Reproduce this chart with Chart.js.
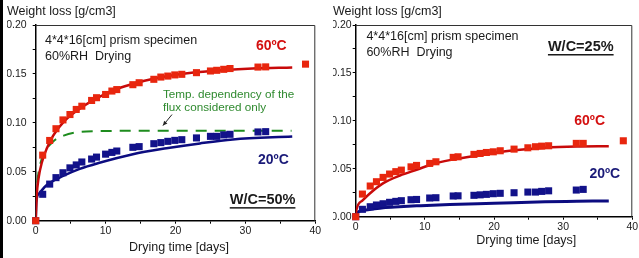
<!DOCTYPE html>
<html><head><meta charset="utf-8">
<script src="https://cdn.jsdelivr.net/npm/chart.js@4/dist/chart.umd.min.js"></script>
<style>
html,body{margin:0;padding:0;background:#fff;}
#wrap{position:relative;width:639px;height:258px;overflow:hidden;background:#fff;}
canvas{position:absolute;top:0;}
#c1{left:0;} #c2{left:320px;}
#bar{position:absolute;left:0;top:0;width:3px;height:258px;background:#000;}
</style></head><body>
<div id="wrap"><canvas id="c1" width="330" height="258"></canvas><canvas id="c2" width="319" height="258"></canvas><div id="bar"></div></div>
<script>
// ---------- DATA ----------
const yTitle = 'Weight loss [g/cm3]';
const xTitle = 'Drying time [days]';

// W/C = 50 % (left)
const leftDays60 = [0,1,2,2.9,3.9,4.9,5.8,6.6,8,8.7,10,10.9,11.6,13.9,14.8,16.9,17.9,18.9,19.9,20.9,23,25,25.9,26.9,27.8,31.8,32.9,38.6];
const left60     = [0,0.067,0.082,0.094,0.103,0.1085,0.1137,0.117,0.1229,0.1257,0.129,0.1325,0.134,0.139,0.141,0.1445,0.1468,0.1478,0.149,0.1496,0.1513,0.153,0.1537,0.1547,0.1555,0.157,0.1572,0.16];
const leftDays20 = [0,1,2,2.9,3.9,4.9,5.8,6.6,8,8.7,10,10.9,11.6,13.9,14.8,16.9,17.9,18.9,19.9,20.9,23,25,25.9,26.9,27.8,31.8,32.9];
const left20     = [0,0.027,0.0374,0.044,0.049,0.054,0.057,0.06,0.063,0.065,0.068,0.0698,0.0712,0.075,0.0757,0.0787,0.0798,0.0811,0.0821,0.0828,0.0846,0.0862,0.0862,0.0877,0.0883,0.0907,0.091];
const leftFitDays60 = [0,0.15,0.4,0.9,1.6,2.5,4,6,8.7,11,13.5,17.5,22,27,31,36.7];
const leftFit60     = [0,0.026,0.043,0.06,0.074,0.087,0.101,0.113,0.125,0.133,0.139,0.146,0.151,0.154,0.1555,0.1565];
const leftFitDaysT  = [0,0.15,0.6,1.3,2.5,4,6,9,15,36.6];
const leftFitT      = [0,0.03,0.056,0.07,0.081,0.087,0.0905,0.0915,0.092,0.092];
const leftFitDays20 = [0,0.1,0.5,1.5,4,6.3,9,13.9,18.7,23.5,28.2,36.7];
const leftFit20     = [0,0.02,0.028,0.036,0.046,0.053,0.059,0.068,0.074,0.079,0.083,0.086];

// W/C = 25 % (right)
const rightDays60 = [0,0.97,2.1,3,3.96,4.9,5.8,6.6,8,8.8,10.7,11.6,14.1,14.8,17.1,18,18.9,19.9,20.9,22.9,24.9,26,26.9,27.9,31.9,32.9,38.7];
const right60     = [0,0.0236,0.032,0.0365,0.041,0.0445,0.047,0.0486,0.052,0.0535,0.0556,0.0573,0.0619,0.0625,0.065,0.066,0.067,0.0677,0.0688,0.0705,0.0719,0.073,0.0736,0.074,0.0765,0.0765,0.0792];
const rightDays20 = [0,0.97,2.1,3,3.96,4.9,5.8,6.6,8,8.8,10.7,11.6,14.1,14.8,17.1,18,18.9,19.9,20.9,22.9,24.9,26,26.9,27.9,31.9,32.9];
const right20     = [0,0.0077,0.0104,0.0122,0.0135,0.015,0.016,0.0167,0.0177,0.018,0.0195,0.0198,0.0216,0.0218,0.0223,0.0228,0.0233,0.024,0.0244,0.025,0.0257,0.0257,0.0264,0.027,0.0278,0.0285];
const rightFitDays60 = [0,0.1,1,2,4,6.4,8.8,11.2,13.6,17.7,22.6,27.4,32,36.6];
const rightFit60     = [0,0.007,0.017,0.024,0.035,0.043,0.049,0.055,0.059,0.064,0.069,0.072,0.0732,0.0735];
const rightFitDays20 = [0,0.1,1.5,4,6.3,8.8,13.6,20,27.4,32,36.6];
const rightFit20     = [0,0.0035,0.007,0.0094,0.0104,0.0113,0.0128,0.014,0.0155,0.016,0.0165];

// ---------- STYLE ----------
const F = "'Liberation Sans', Arial, sans-serif";
const RED_PT = '#e8260e', RED_LN = '#c80a0a', RED_TX = '#d41010';
const BLUE_PT = '#12128a', BLUE_LN = '#0c0c80', BLUE_TX = '#1a1a78';
const GREEN = '#1e8c1e', GREEN_TX = '#2f8a2f', INK = '#1a1a1a';

const pts = (d, v) => d.map((x, i) => ({x, y: v[i]}));
const scatterDs = (label, d, v, color, order) => ({label, data: pts(d, v), showLine: false,
  pointStyle: 'rect', pointRadius: 5, pointHoverRadius: 5, pointBorderWidth: 0,
  backgroundColor: color, borderColor: color, order, clip: false});
const lineDs = (label, d, v, color, width, order, dash) => ({label, data: pts(d, v), showLine: true,
  pointRadius: 0, borderColor: color, borderWidth: width, borderDash: dash || [],
  cubicInterpolationMode: 'monotone', fill: false, order});

function makeScales(yWidth, xHeight, yPad) {
  return {
    x: {type: 'linear', min: 0, max: 40,
      ticks: {stepSize: 5, autoSkip: false, maxRotation: 0, padding: 1, color: INK,
        font: {family: F, size: 10.5}, callback: v => (Math.round(v) % 10 === 0 ? String(v) : '')},
      grid: {display: true, drawOnChartArea: false, drawTicks: true, tickLength: 3, color: '#000', lineWidth: 1},
      border: {display: true, color: '#000', width: 1.5},
      afterFit(s) { s.height = xHeight; s.paddingLeft = 0; s.paddingRight = 0; }
    },
    y: {type: 'linear', min: 0, max: 0.2,
      ticks: {stepSize: 0.025, autoSkip: false, padding: yPad, color: INK,
        font: {family: F, size: 10.5},
        callback: v => (Math.abs(v * 20 - Math.round(v * 20)) < 1e-6 ? v.toFixed(2) : '')},
      grid: {display: true, drawOnChartArea: false, drawTicks: true, tickLength: 3, color: '#000', lineWidth: 1},
      border: {display: true, color: '#000', width: 1.5},
      afterFit(s) { s.width = yWidth; s.paddingTop = 0; s.paddingBottom = 0; }
    }
  };
}

function notesPlugin(notes, arrows, xlab) {
  return {
    id: 'notes',
    beforeDatasetsDraw(chart) {
      const {ctx, chartArea: a} = chart;
      ctx.save();
      ctx.strokeStyle = '#333'; ctx.lineWidth = 1;
      ctx.beginPath();
      ctx.moveTo(a.left, a.top + 0.5); ctx.lineTo(a.right - 0.5, a.top + 0.5); ctx.lineTo(a.right - 0.5, a.bottom);
      ctx.stroke();
      ctx.restore();
    },
    afterDraw(chart) {
      const {ctx, scales: {x, y}} = chart;
      ctx.save();
      ctx.textBaseline = 'middle';
      for (const n of notes) {
        ctx.font = (n.bold ? 'bold ' : '') + n.size + 'px ' + F;
        ctx.fillStyle = n.color; ctx.textAlign = 'left';
        const px = x.getPixelForValue(n.x), py = y.getPixelForValue(n.y);
        ctx.fillText(n.text, px, py);
        if (n.underline) {
          const w = ctx.measureText(n.text).width;
          ctx.fillRect(px, py + n.size * 0.5, w, 1.5);
        }
      }
      for (const ar of arrows) {
        const x0 = x.getPixelForValue(ar.x0), y0 = y.getPixelForValue(ar.y0);
        const x1 = x.getPixelForValue(ar.x1), y1 = y.getPixelForValue(ar.y1);
        const ang = Math.atan2(y1 - y0, x1 - x0);
        ctx.strokeStyle = '#222'; ctx.fillStyle = '#222'; ctx.lineWidth = 1;
        ctx.beginPath(); ctx.moveTo(x0, y0); ctx.lineTo(x1, y1); ctx.stroke();
        ctx.beginPath(); ctx.moveTo(x1, y1);
        ctx.lineTo(x1 - 5 * Math.cos(ang - 0.45), y1 - 5 * Math.sin(ang - 0.45));
        ctx.lineTo(x1 - 5 * Math.cos(ang + 0.45), y1 - 5 * Math.sin(ang + 0.45));
        ctx.closePath(); ctx.fill();
      }
      ctx.font = '12.5px ' + F; ctx.fillStyle = INK; ctx.textAlign = 'center';
      ctx.fillText(xTitle, xlab.px, xlab.py);
      ctx.restore();
    }
  };
}

function makeChart(id, cfg) {
  return new Chart(document.getElementById(id), {
    type: 'scatter',
    data: {datasets: cfg.datasets},
    options: {
      responsive: false, animation: false, devicePixelRatio: 1,
      layout: {padding: {left: cfg.padLeft, right: cfg.padRight, top: 0, bottom: 0}},
      plugins: {
        legend: {display: false}, tooltip: {enabled: false},
        title: {display: true, text: yTitle, align: 'start', color: INK,
          font: {family: F, size: 12.5, weight: 'normal'}, padding: {top: 4, bottom: 6}}
      },
      scales: makeScales(cfg.yWidth, cfg.xHeight, cfg.yPad)
    },
    plugins: [notesPlugin(cfg.notes, cfg.arrows, cfg.xlab)]
  });
}

makeChart('c1', {
  padLeft: 7, padRight: 14.7, yWidth: 28.7, xHeight: 37.3, yPad: 6,
  datasets: [
    scatterDs('60ºC', leftDays60, left60, RED_PT, 0),
    scatterDs('20ºC', leftDays20, left20, BLUE_PT, 1),
    lineDs('60ºC fit', leftFitDays60, leftFit60, RED_LN, 2.5, 2),
    lineDs('flux only', leftFitDaysT, leftFitT, GREEN, 2, 3, [11, 8]),
    lineDs('20ºC fit', leftFitDays20, leftFit20, BLUE_LN, 2.5, 2)
  ],
  notes: [
    {text: '4*4*16[cm] prism specimen', x: 1.33, y: 0.1838, size: 12.5, color: INK},
    {text: '60%RH  Drying', x: 1.33, y: 0.168, size: 12.5, color: INK},
    {text: '60ºC', x: 31.5, y: 0.178, size: 14, bold: true, color: RED_TX},
    {text: 'Temp. dependency of the', x: 18.2, y: 0.1285, size: 11.7, color: GREEN_TX},
    {text: 'flux considered only', x: 18.2, y: 0.115, size: 11.7, color: GREEN_TX},
    {text: '20ºC', x: 31.8, y: 0.0623, size: 14, bold: true, color: BLUE_TX},
    {text: 'W/C=50%', x: 27.76, y: 0.0213, size: 14.5, bold: true, color: INK, underline: true}
  ],
  arrows: [{x0: 19.5, y0: 0.1085, x1: 18.2, y1: 0.0972}],
  xlab: {px: 179, py: 248}
});

makeChart('c2', {
  padLeft: 13, padRight: 6.7, yWidth: 22.7, xHeight: 41.3, yPad: 1,
  datasets: [
    scatterDs('60ºC', rightDays60, right60, RED_PT, 0),
    scatterDs('20ºC', rightDays20, right20, BLUE_PT, 1),
    lineDs('60ºC fit', rightFitDays60, rightFit60, RED_LN, 2.5, 2),
    lineDs('20ºC fit', rightFitDays20, rightFit20, BLUE_LN, 3, 2)
  ],
  notes: [
    {text: '4*4*16[cm] prism specimen', x: 1.55, y: 0.1877, size: 12.5, color: INK},
    {text: '60%RH  Drying', x: 1.55, y: 0.1716, size: 12.5, color: INK},
    {text: 'W/C=25%', x: 27.8, y: 0.1773, size: 14.5, bold: true, color: INK, underline: true},
    {text: '60ºC', x: 31.6, y: 0.0992, size: 14, bold: true, color: RED_TX},
    {text: '20ºC', x: 33.8, y: 0.0445, size: 14, bold: true, color: BLUE_TX}
  ],
  arrows: [],
  xlab: {px: 206.3, py: 241}
});
</script></body></html>
